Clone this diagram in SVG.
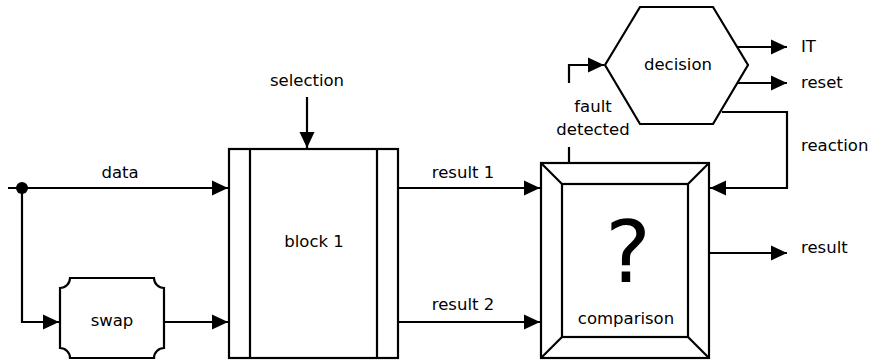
<svg xmlns="http://www.w3.org/2000/svg" width="870" height="360" viewBox="0 0 870 360">
  <defs>
    <marker id="arrow" viewBox="0 0 16 16" refX="16" refY="8" markerWidth="16" markerHeight="16" markerUnits="userSpaceOnUse" orient="auto">
      <path d="M0,0.5 L16,8 L0,15.5 Z" fill="#000"/>
    </marker>
  </defs>
  <style>
    .shape { fill: #fff; stroke: #000; stroke-width: 2.2; }
    .line { fill: none; stroke: #000; stroke-width: 2.2; }
    .wire { fill: none; stroke: #000; stroke-width: 2.2; marker-end: url(#arrow); }
    text { font-family: "DejaVu Sans", Verdana, sans-serif; font-size: 16.5px; fill: #000; dominant-baseline: central; }
    .c { text-anchor: middle; }
  </style>
  <rect width="870" height="360" fill="#fff"/>

  <g id="connectors">
    <path class="wire" d="M8,188 H228"/>
    <path class="wire" d="M22,188 V322 H59"/>
    <path class="wire" d="M165,322 H228"/>
    <path class="wire" d="M307,97 V148"/>
    <path class="wire" d="M398,188 H540"/>
    <path class="wire" d="M398,322 H540"/>
    <path class="line" d="M569,147 V163"/>
    <path class="wire" d="M569,83 V65 H604"/>
    <path class="wire" d="M736,47 H787"/>
    <path class="wire" d="M736,83 H787"/>
    <path class="wire" d="M722,112 H787 V188 H710"/>
    <path class="wire" d="M709,253 H787"/>
    <circle cx="22" cy="188" r="6" fill="#000"/>
  </g>

  <g id="labels">
    <text class="c" x="120" y="172">data</text>
    <text class="c" x="307" y="80">selection</text>
    <text class="c" x="463" y="172">result 1</text>
    <text class="c" x="463" y="304">result 2</text>
    <text class="c" x="593" y="106">fault</text>
    <text class="c" x="593" y="129">detected</text>
    <text x="801" y="46">IT</text>
    <text x="801" y="82">reset</text>
    <text x="801" y="145">reaction</text>
    <text x="801" y="247">result</text>
  </g>

  <g id="swap">
    <path class="shape" d="M70,278 H154 A10,10 0 0 0 164,288 V348 A10,10 0 0 0 154,358 H70 A10,10 0 0 0 60,348 V288 A10,10 0 0 0 70,278 Z"/>
    <text class="c" x="112" y="320">swap</text>
  </g>

  <g id="block1">
    <rect class="shape" x="229" y="149" width="169" height="209"/>
    <path class="line" d="M250,149 V358 M377,149 V358"/>
    <text class="c" x="314" y="241">block 1</text>
  </g>

  <g id="comparison">
    <rect class="shape" x="541" y="163" width="168" height="195"/>
    <rect class="shape" x="562" y="184" width="126" height="153"/>
    <path class="line" d="M541,163 L562,184 M709,163 L688,184 M541,358 L562,337 M709,358 L688,337"/>
    <text x="628" y="282" text-anchor="middle" style="font-size:86px;dominant-baseline:alphabetic">?</text>
    <text class="c" x="626" y="318">comparison</text>
  </g>

  <g id="decision">
    <path class="shape" d="M605,65 L640,7 H713 L748,65 L713,124 H640 Z"/>
    <text class="c" x="678" y="64">decision</text>
  </g>
</svg>
